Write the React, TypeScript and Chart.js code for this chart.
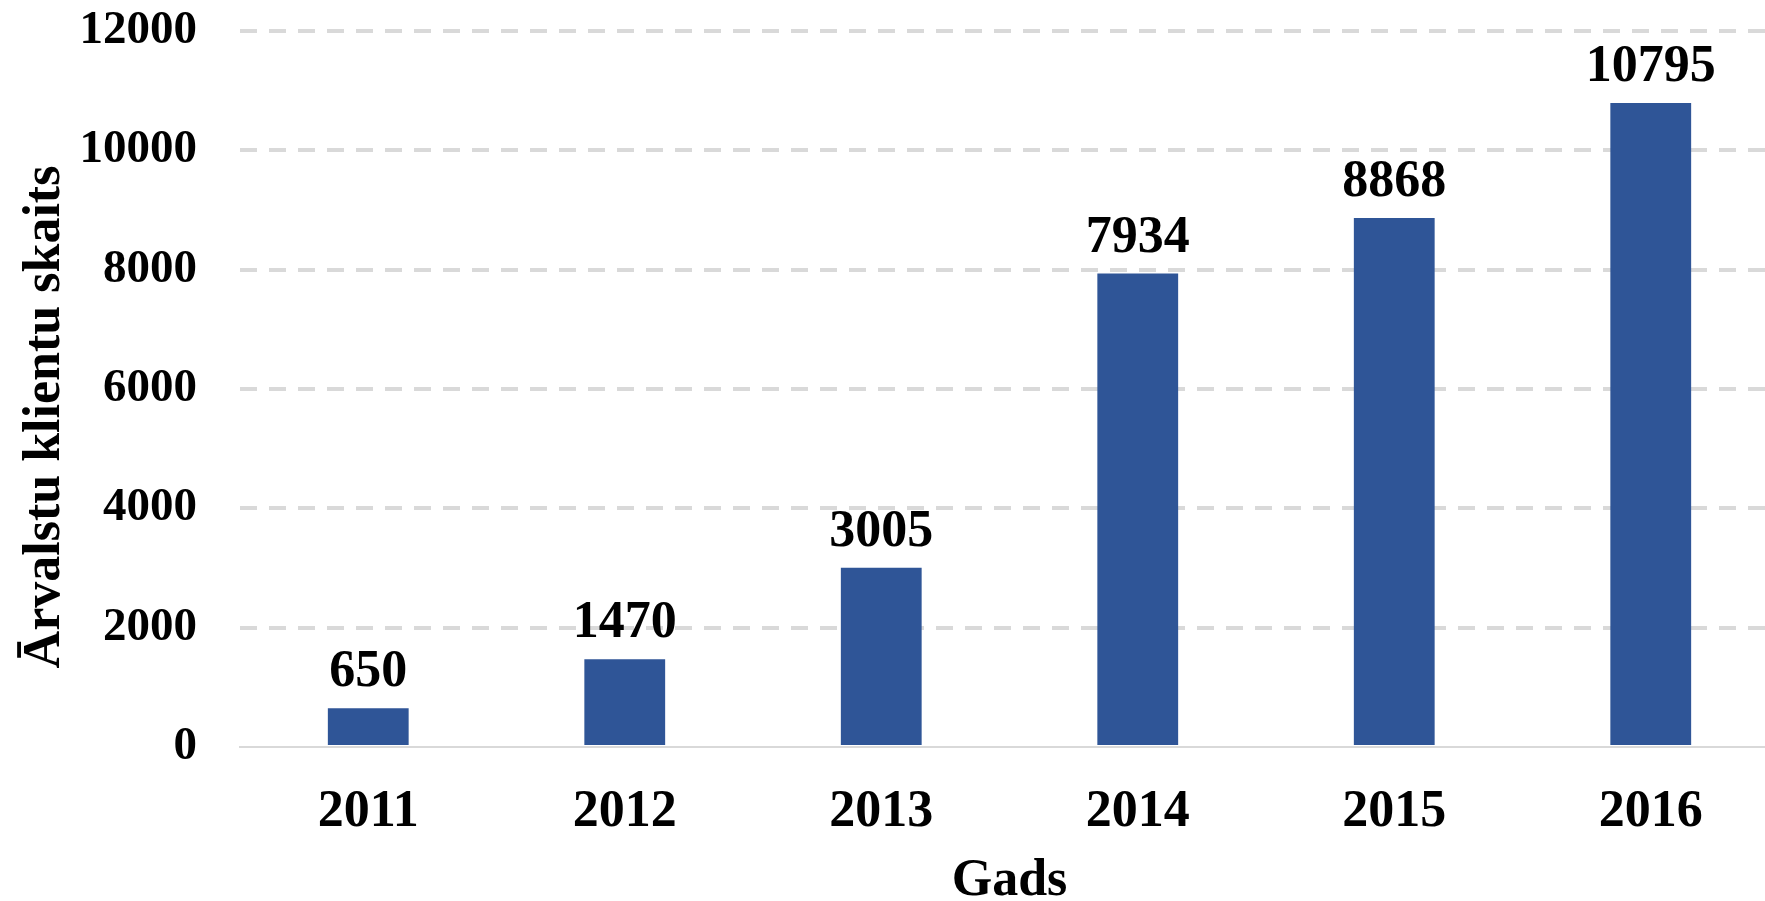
import React, { useEffect, useRef } from "react";
import { Chart, registerables } from "chart.js";

Chart.register(...registerables);

const categories = ["2011", "2012", "2013", "2014", "2015", "2016"];
const values = [650, 1470, 3005, 7934, 8868, 10795];
const yTicks = [0, 2000, 4000, 6000, 8000, 10000, 12000];
const xTitle = "Gads";
const yTitle = "Ārvalstu klientu skaits";

const FONT = "'Liberation Serif', 'Times New Roman', serif";
const BAR_COLOR = "#2F5597";
const GRID_COLOR = "#d9d9d9";

const labelsPlugin = {
  id: "customLabels",
  afterDatasetsDraw(chart: any) {
    const ctx = chart.ctx;
    const meta = chart.getDatasetMeta(0);
    ctx.save();
    ctx.fillStyle = "#000";
    ctx.font = `bold 52px ${FONT}`;
    ctx.textAlign = "center";
    ctx.textBaseline = "alphabetic";
    meta.data.forEach((bar: any, i: number) => {
      ctx.fillText(String(values[i]), bar.x, bar.y - 22);
    });
    ctx.restore();
  },
  afterDraw(chart: any) {
    const ctx = chart.ctx;
    const area = chart.chartArea;
    ctx.save();
    ctx.fillStyle = "#000";
    ctx.font = `bold 52px ${FONT}`;
    ctx.textAlign = "center";
    ctx.textBaseline = "alphabetic";
    ctx.fillText(xTitle, (area.left + area.right) / 2, 895);
    ctx.translate(59, (area.top + area.bottom) / 2 + 28);
    ctx.rotate(-Math.PI / 2);
    ctx.fillText(yTitle, 0, 0);
    ctx.restore();
  },
};

export default function App() {
  const ref = useRef<HTMLCanvasElement | null>(null);

  useEffect(() => {
    if (!ref.current) return;
    const chart = new Chart(ref.current, {
      type: "bar",
      data: {
        labels: categories,
        datasets: [
          {
            data: values,
            backgroundColor: BAR_COLOR,
            borderWidth: 0,
            categoryPercentage: 1,
            barPercentage: 0.315,
          },
        ],
      },
      options: {
        animation: false,
        responsive: false,
        devicePixelRatio: 1,
        layout: { padding: { top: 31, right: 11, left: 0, bottom: 0 } },
        plugins: {
          legend: { display: false },
          tooltip: { enabled: false },
        },
        scales: {
          x: {
            grid: { display: false, drawTicks: false },
            border: { display: true, color: GRID_COLOR, width: 2 },
            ticks: {
              color: "#000",
              font: { family: FONT, size: 52, weight: "bold" },
              padding: 34,
            },
            afterFit(scale: any) {
              scale.height = 154;
              scale.paddingLeft = 0;
              scale.paddingRight = 0;
            },
          },
          y: {
            min: 0,
            max: 12000,
            afterBuildTicks(scale: any) {
              scale.ticks = yTicks.map((v) => ({ value: v }));
            },
            grid: {
              color: (c: any) => (c.tick && c.tick.value === 0 ? "rgba(0,0,0,0)" : GRID_COLOR),
              lineWidth: 4,
              drawTicks: false,
            },
            border: { display: false, dash: [17, 12] },
            ticks: {
              color: "#000",
              font: { family: FONT, size: 47, weight: "bold" },
              padding: 43,
              callback: (v: any) => String(v),
            },
            afterFit(scale: any) {
              scale.width = 240;
              scale.paddingTop = 0;
              scale.paddingBottom = 0;
            },
          },
        },
      } as any,
      plugins: [labelsPlugin],
    });
    return () => chart.destroy();
  }, []);

  return (
    <div
      style={{
        position: "fixed",
        left: 0,
        top: 0,
        width: 1765,
        height: 901,
        overflow: "hidden",
        background: "#fff",
      }}
    >
      <canvas
        ref={ref}
        width={1790}
        height={901}
        style={{ position: "absolute", left: 0, top: 0, width: 1790, height: 901 }}
      />
    </div>
  );
}
